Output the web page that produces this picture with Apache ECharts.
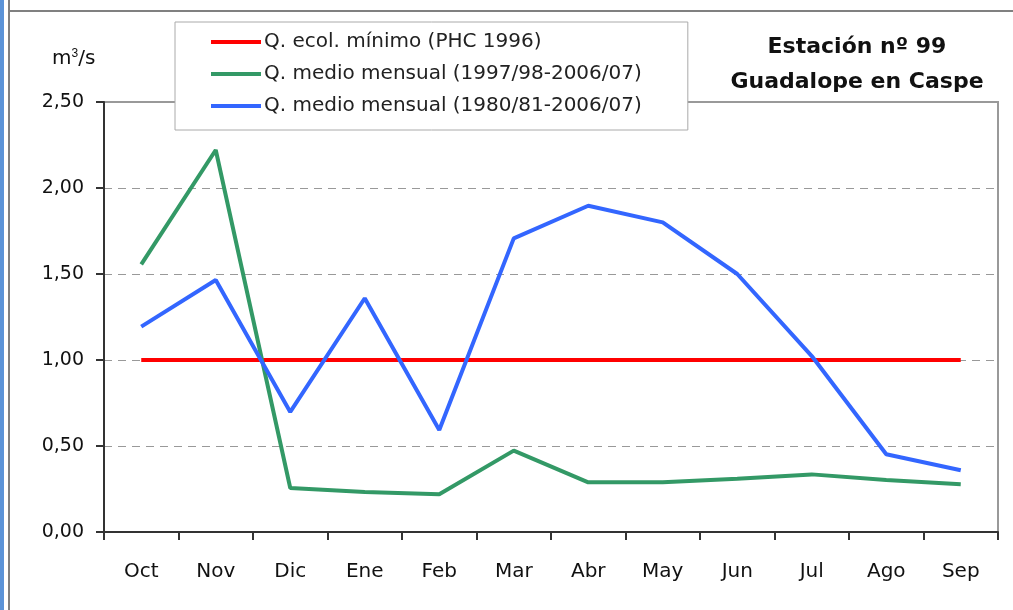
<!DOCTYPE html>
<html>
<head>
<meta charset="utf-8">
<script src="https://cdn.jsdelivr.net/npm/echarts@6/dist/echarts.min.js"></script>
<style>
  html, body { margin: 0; padding: 0; background: #fff; }
  #chart { width: 1013px; height: 610px; }
</style>
</head>
<body>
<div id="chart"></div>
<script>
// meses del año hidrológico
var months = ['Oct', 'Nov', 'Dic', 'Ene', 'Feb', 'Mar', 'Abr', 'May', 'Jun', 'Jul', 'Ago', 'Sep'];
var qEcol = [1.0, 1.0, 1.0, 1.0, 1.0, 1.0, 1.0, 1.0, 1.0, 1.0, 1.0, 1.0];
var qMedio9707 = [1.556, 2.221, 0.256, 0.233, 0.219, 0.473, 0.289, 0.289, 0.31, 0.335, 0.302, 0.277];
var qMedio8007 = [1.194, 1.465, 0.698, 1.359, 0.593, 1.707, 1.897, 1.80, 1.50, 1.023, 0.452, 0.359];
var yTicks = [0, 0.5, 1.0, 1.5, 2.0, 2.5];

var FONT = '"DejaVu Sans", sans-serif';

var myChart = echarts.init(document.getElementById('chart'));

myChart.setOption({
  animation: false,
  backgroundColor: '#fff',
  color: ['#ff0000', '#339966', '#3366ff'],
  textStyle: { fontFamily: FONT },
  title: {
    text: 'Estación nº 99\nGuadalope en Caspe',
    left: 852,
    top: 25,
    textAlign: 'center',
    textStyle: {
      fontFamily: FONT,
      fontWeight: 'bold',
      fontSize: 22,
      lineHeight: 35,
      color: '#111'
    }
  },
  legend: {
    orient: 'vertical',
    left: 175,
    top: 22,
    padding: [10, 46, 14, 36],
    itemGap: 12,
    itemWidth: 50,
    itemHeight: 4,
    icon: 'rect',
    backgroundColor: '#fff',
    borderColor: '#aaa',
    borderWidth: 1,
    borderRadius: 0,
    textStyle: { fontFamily: FONT, fontSize: 20, color: '#222', padding: [0, 0, 0, -2] },
    data: ['Q. ecol. mínimo (PHC 1996)', 'Q. medio mensual (1997/98-2006/07)', 'Q. medio mensual (1980/81-2006/07)']
  },
  grid: {
    left: 104,
    right: 15,
    top: 102,
    bottom: 78,
    show: true,
    borderColor: '#999',
    borderWidth: 2,
    backgroundColor: 'transparent'
  },
  xAxis: {
    type: 'category',
    data: months,
    boundaryGap: true,
    axisLine: { lineStyle: { color: '#333', width: 2 } },
    axisTick: { show: true, length: 8, lineStyle: { color: '#333', width: 2 } },
    axisLabel: { color: '#111', fontSize: 20, margin: 30, fontFamily: FONT },
    splitLine: { show: false }
  },
  yAxis: {
    type: 'value',
    min: yTicks[0],
    max: yTicks[yTicks.length - 1],
    interval: 0.5,
    axisLine: { show: true, lineStyle: { color: '#333', width: 2 } },
    axisTick: { show: true, length: 8, lineStyle: { color: '#333', width: 2 } },
    axisLabel: {
      color: '#111',
      fontSize: 19,
      margin: 20,
      fontFamily: FONT,
      formatter: function (v) { return v.toFixed(2).replace('.', ','); }
    },
    splitLine: { show: true, lineStyle: { color: '#999', type: [8, 6], width: 1 } }
  },
  graphic: [
    { type: 'rect', shape: { x: 0, y: 0, width: 4, height: 610 }, style: { fill: '#5b93d8' }, z: 100 },
    { type: 'rect', shape: { x: 8, y: 0, width: 2, height: 610 }, style: { fill: '#808080' }, z: 100 },
    { type: 'rect', shape: { x: 10, y: 10, width: 1003, height: 2 }, style: { fill: '#808080' }, z: 100 },
    {
      type: 'text', left: 52, top: 48, z: 100,
      style: { text: 'm{s|3}/s', fill: '#111', font: '20px ' + FONT,
        rich: { s: { fontSize: 12, verticalAlign: 'top', padding: [0, 0, 9, 0], fill: '#111' } } }
    }
  ],
  series: [
    { name: 'Q. ecol. mínimo (PHC 1996)', type: 'line', data: qEcol, symbol: 'none', lineStyle: { width: 4 }, z: 3 },
    { name: 'Q. medio mensual (1997/98-2006/07)', type: 'line', data: qMedio9707, symbol: 'none', lineStyle: { width: 4 }, z: 4 },
    { name: 'Q. medio mensual (1980/81-2006/07)', type: 'line', data: qMedio8007, symbol: 'none', lineStyle: { width: 4 }, z: 5 }
  ]
});
</script>
</body>
</html>
